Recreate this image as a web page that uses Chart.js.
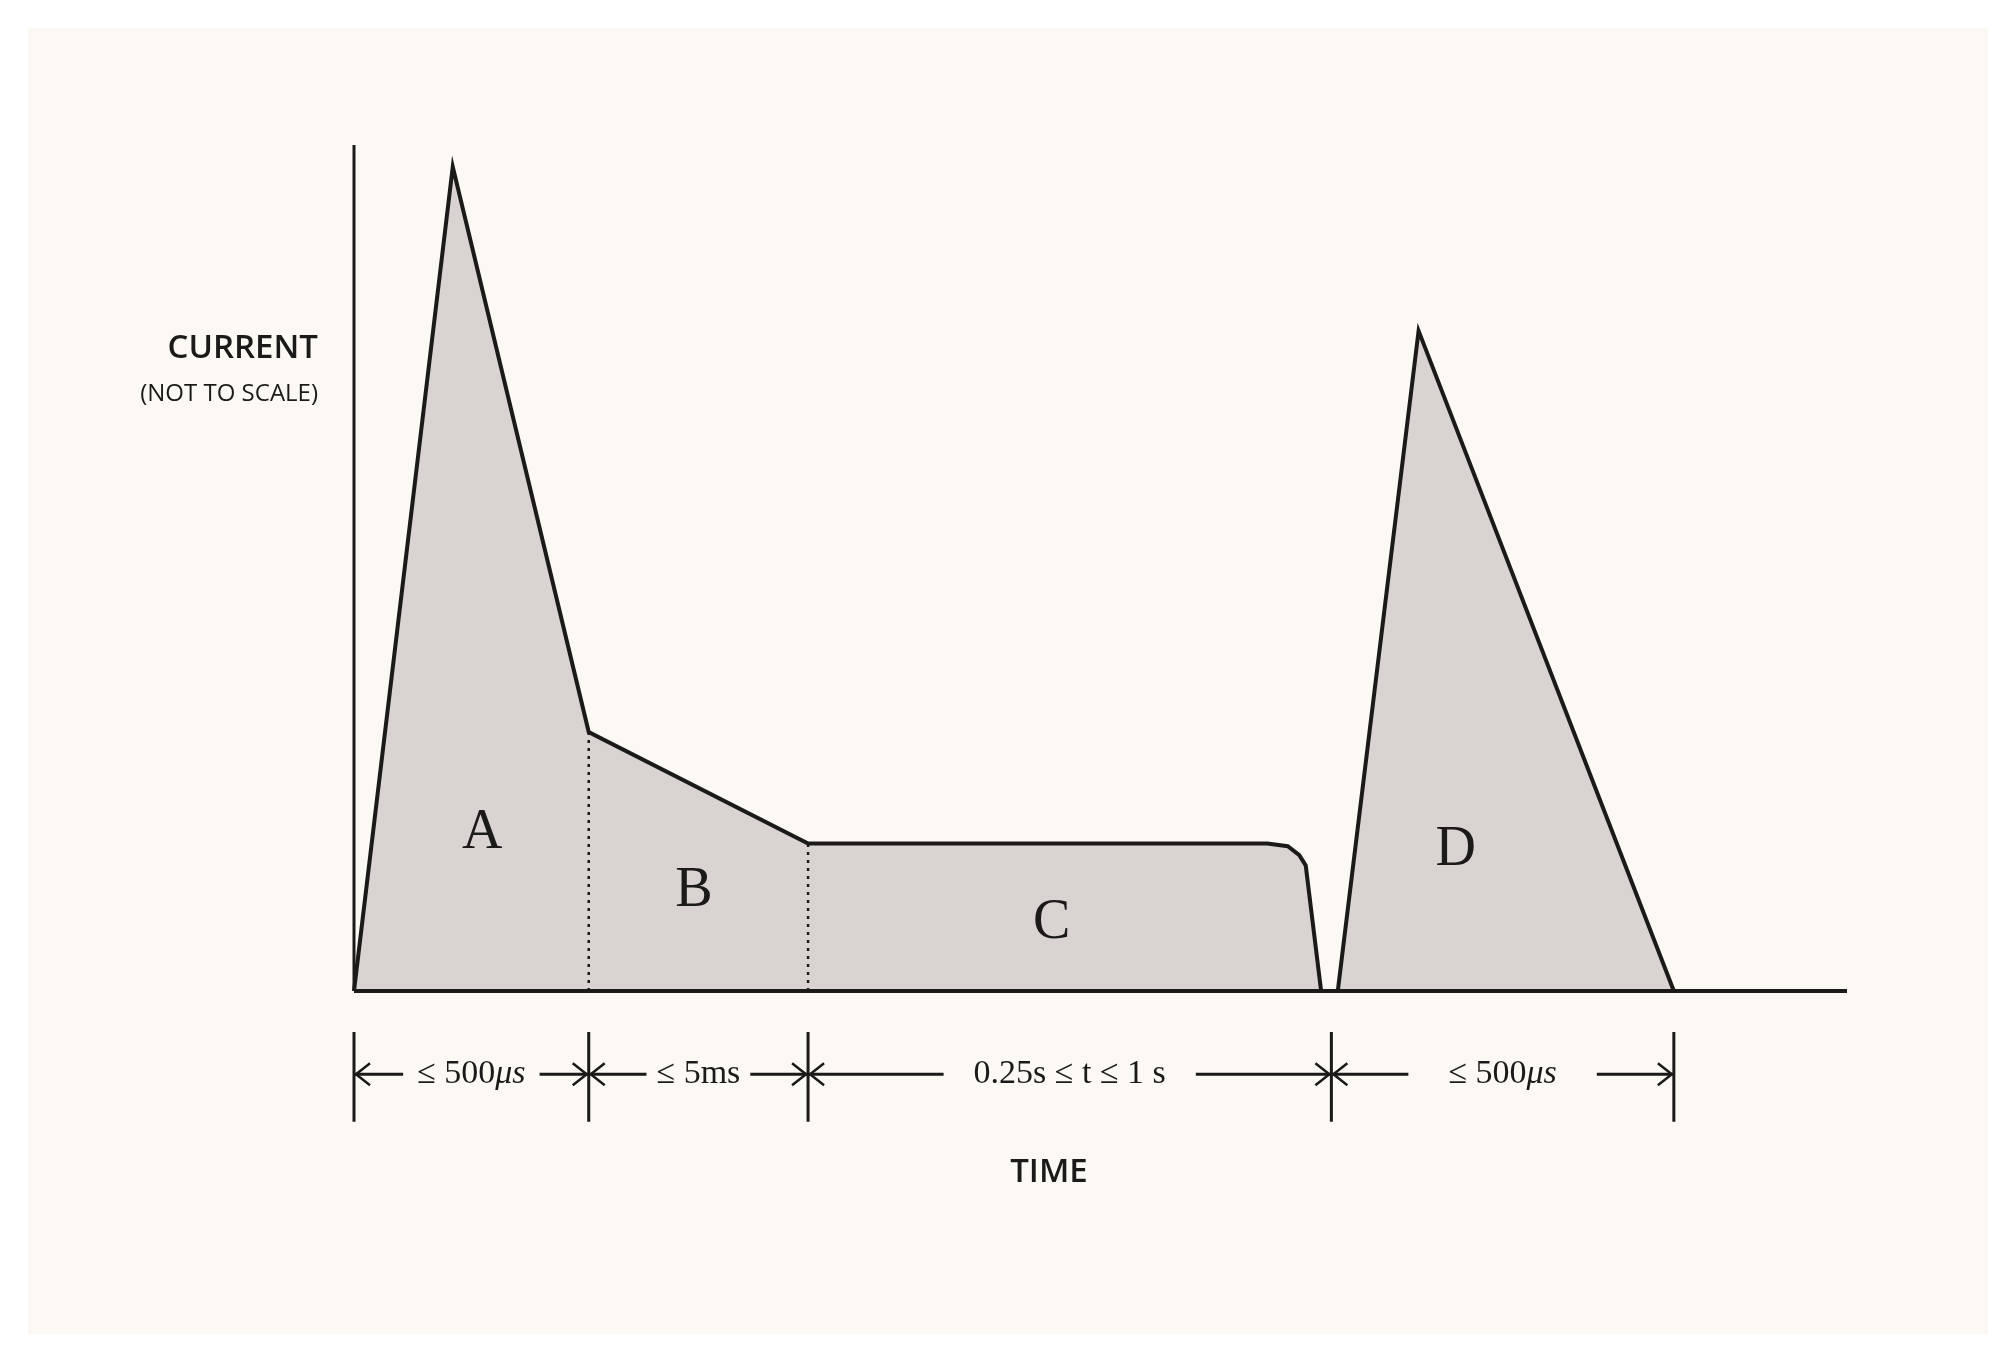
<!DOCTYPE html>
<html><head><meta charset="utf-8">
<script src="https://cdn.jsdelivr.net/npm/chart.js@4.4.0/dist/chart.umd.min.js"></script>
<style>html,body{margin:0;padding:0;background:#fff}#w{width:2011px;height:1358px}</style>
</head><body><div id="w"><canvas id="c"></canvas></div>
<script>
// Waveform path (not to scale; arbitrary time/current units)
const waveX = [0, 77, 183, 354, 712, 728, 737, 742, 754, 767, 830, 1029];
const waveY = [0, 643, 202, 115, 115, 113, 106, 98, 0, 0, 515, 0];
// Phase boundaries (dotted lines) and their heights
const dividerX = [183, 354];
const dividerY = [202, 115];
// Region labels
const regionLabels = ['A', 'B', 'C', 'D'];
const regionX = [100, 265, 544, 859];
const regionY = [123, 78, 53, 110];
// Dimension markers
const dimTicks = [0, 183, 354, 762, 1029];
const dimLabels = [['≤ 500', 'μs'], ['≤ 5ms', ''], ['0.25s ≤ t ≤ 1 s', ''], ['≤ 500', 'μs']];
const dimGap = [14, 10, 30, 40];
const axisXMax = 1164, axisYMax = 660;

const pts = waveX.map((x, i) => ({x, y: waveY[i]}));
const ink = '#1c1a19';

const deco = {
  id: 'deco',
  beforeDraw(ch) {
    const c = ch.ctx;
    c.save();
    c.fillStyle = '#ffffff'; c.fillRect(0, 0, ch.width, ch.height);
    c.fillStyle = '#fcf9f4'; c.fillRect(28, 28, 1960, 1306);
    c.restore();
  },
  afterDatasetsDraw(ch) {
    const c = ch.ctx, xs = ch.scales.x, ys = ch.scales.y;
    c.save();
    // region letters
    c.fillStyle = ink; c.textAlign = 'center'; c.textBaseline = 'middle';
    c.font = '56px "Liberation Serif", serif';
    regionLabels.forEach((l, i) => c.fillText(l, xs.getPixelForValue(regionX[i]), ys.getPixelForValue(regionY[i])));
    // dimension ticks
    const yT = ys.getPixelForValue(-32), yB = ys.getPixelForValue(-102), yA = ys.getPixelForValue(-65);
    c.strokeStyle = ink; c.lineWidth = 3;
    dimTicks.forEach(t => { const p = xs.getPixelForValue(t); c.beginPath(); c.moveTo(p, yT); c.lineTo(p, yB); c.stroke(); });
    const reg = '34px "Liberation Serif", serif', ita = 'italic 34px "Liberation Serif", serif';
    for (let i = 0; i < dimLabels.length; i++) {
      const a = xs.getPixelForValue(dimTicks[i]), b = xs.getPixelForValue(dimTicks[i + 1]);
      const [t1, t2] = dimLabels[i];
      c.font = reg; const w1 = c.measureText(t1).width;
      c.font = ita; const w2 = c.measureText(t2).width;
      const mid = (a + b) / 2, w = w1 + w2, s = mid - w / 2;
      c.textAlign = 'left'; c.textBaseline = 'middle';
      c.font = reg; c.fillText(t1, s, yA);
      c.font = ita; c.fillText(t2, s + w1, yA);
      const g = dimGap[i];
      c.lineWidth = 3;
      c.beginPath(); c.moveTo(a, yA); c.lineTo(s - g, yA); c.moveTo(s + w + g, yA); c.lineTo(b, yA); c.stroke();
      // arrowheads
      c.lineWidth = 2.5;
      c.beginPath();
      c.moveTo(a + 16, yA - 11); c.lineTo(a + 2, yA); c.lineTo(a + 16, yA + 11);
      c.moveTo(b - 16, yA - 11); c.lineTo(b - 2, yA); c.lineTo(b - 16, yA + 11);
      c.stroke();
    }
    // axis titles
    c.textBaseline = 'middle';
    c.textAlign = 'right';
    c.font = '600 33px "Open Sans", sans-serif';
    c.fillText('CURRENT', 318, 349);
    c.font = '24px "Open Sans", sans-serif';
    c.fillText('(NOT TO SCALE)', 318, 394);
    c.textAlign = 'center';
    c.font = '600 33px "Open Sans", sans-serif';
    c.fillText('TIME', 1049, 1173);
    c.restore();
  }
};

new Chart(document.getElementById('c'), {
  type: 'scatter',
  data: {
    datasets: [
      { data: pts, showLine: true, fill: 'origin', backgroundColor: '#d9d4d1', borderColor: ink, borderWidth: 4, pointRadius: 0, tension: 0, order: 2 },
      ...dividerX.map((x, i) => ({ data: [{x, y: 0}, {x, y: dividerY[i]}], showLine: true, borderColor: ink, borderWidth: 2.5, borderDash: [3, 5], pointRadius: 0, fill: false, order: 1 })),
      { data: [{x: 0, y: 0}, {x: 0, y: axisYMax}], showLine: true, borderColor: ink, borderWidth: 3, pointRadius: 0, fill: false, order: 0 },
      { data: [{x: 0, y: 0}, {x: axisXMax, y: 0}], showLine: true, borderColor: ink, borderWidth: 4, pointRadius: 0, fill: false, order: 0 }
    ]
  },
  options: {
    responsive: true, maintainAspectRatio: false, animation: false,
    layout: { padding: { left: 354, right: 164, top: 145, bottom: 367 } },
    scales: {
      x: { type: 'linear', min: 0, max: axisXMax, display: false },
      y: { type: 'linear', min: 0, max: axisYMax, display: false }
    },
    plugins: { legend: { display: false }, tooltip: { enabled: false } },
    clip: false
  },
  plugins: [deco]
});
</script></body></html>
